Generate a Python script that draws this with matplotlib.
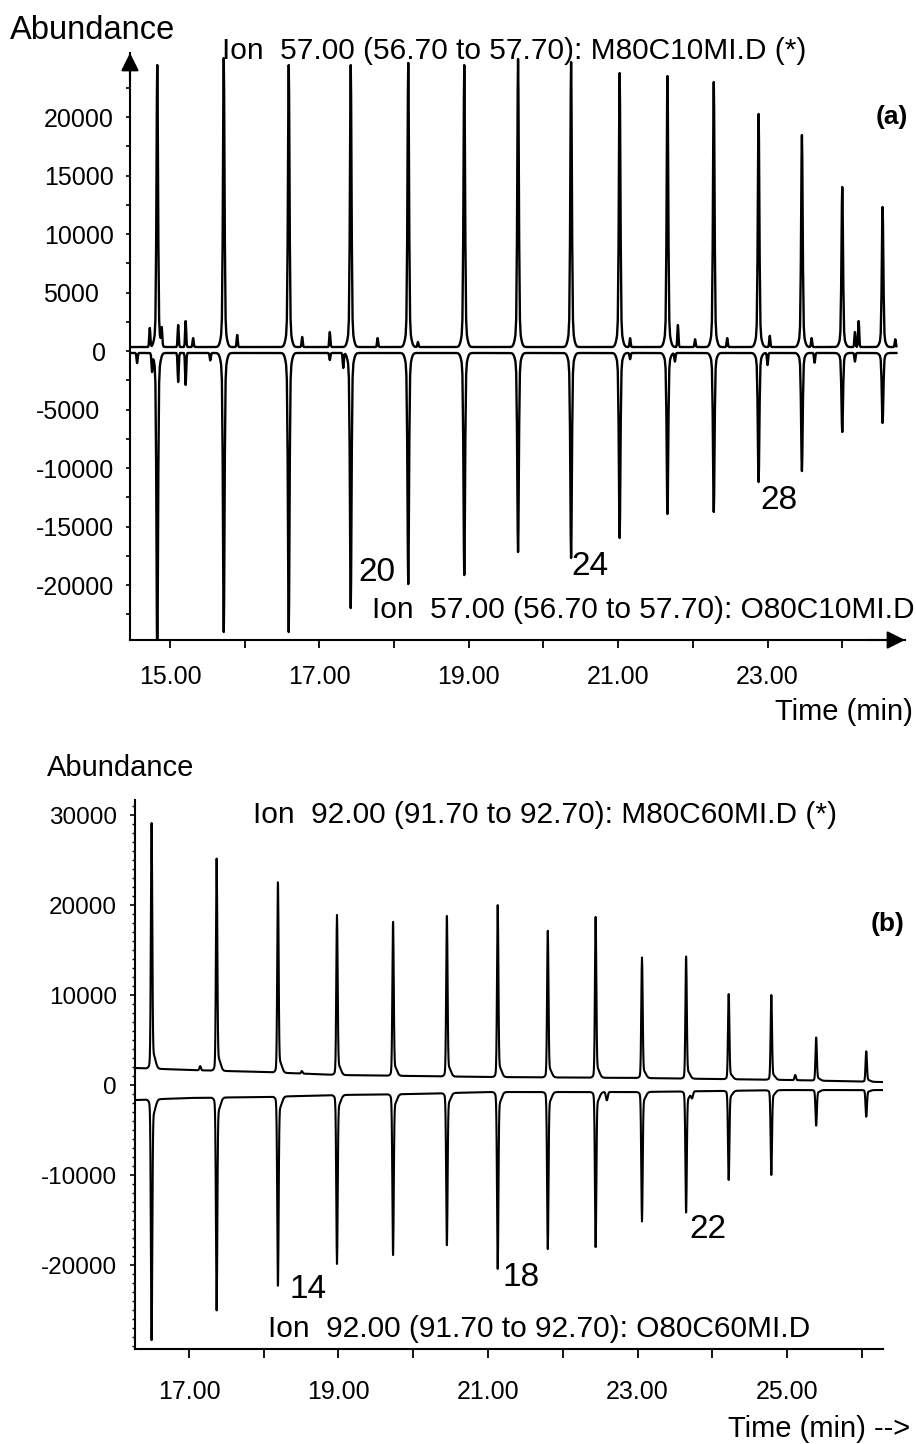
import numpy as np
import matplotlib
matplotlib.use("Agg")
import matplotlib.pyplot as plt
from matplotlib.ticker import FixedLocator, NullFormatter
from matplotlib.transforms import blended_transform_factory

plt.rcParams['font.family'] = ['Liberation Sans', 'DejaVu Sans']

# ---------------- data ----------------
# panel (a): ion 57 chromatograms
a_rt = [14.83, 15.72, 16.59, 17.42, 18.19, 18.94, 19.66, 20.37, 21.02, 21.66,
        22.28, 22.88, 23.46, 24.00, 24.54]
a_up = [24440, 25040, 24440, 24440, 24620, 24440, 24960, 24700, 23760, 23500,
        22990, 20260, 18460, 14020, 12310]
a_dn = [-26500, -24020, -24020, -21970, -19920, -19150, -17180, -17690, -15980,
        -13930, -13760, -11200, -10260, -6920, -6150]
a_base_up = 340
a_base_dn = -170
a_up_minor_t = [14.73, 14.89, 15.11, 15.21, 15.31, 15.90, 16.77, 17.14, 17.78,
                18.32, 21.16, 21.80, 22.03, 22.46, 23.03, 23.59, 24.17, 24.22, 24.71]
a_up_minor_y = [1970, 2050, 2220, 2560, 1100, 1370, 1200, 1620, 1100,
                770, 1100, 2220, 1000, 1100, 1300, 1100, 1620, 2560, 1000]
a_dn_minor_t = [14.56, 14.76, 15.11, 15.21, 15.54, 17.14, 17.32, 21.16, 21.76,
                23.00, 23.63, 24.17]
a_dn_minor_y = [-1030, -1800, -2650, -2900, -800, -770, -1450, -700, -900,
                -1200, -1000, -900]
a_labels = ['20', '24', '28']
a_label_t = [17.52, 20.38, 22.90]
a_label_y = [-18900, -18460, -12740]

# panel (b): ion 92 chromatograms
b_rt = [16.50, 17.37, 18.19, 18.98, 19.73, 20.45, 21.13, 21.80, 22.44, 23.06,
        23.65, 24.22, 24.79, 25.39, 26.06]
b_up = [29440, 25440, 22780, 19110, 18330, 19000, 20220, 17330, 18890, 14330,
        14440, 10220, 10110, 5330, 3780]
b_dn = [-28670, -25330, -22560, -20110, -19110, -18000, -20670, -18440, -18220,
        -15330, -14330, -10670, -10110, -4560, -3560]
b_base_t = [16.28, 17.0, 18.0, 19.0, 20.0, 21.0, 23.0, 25.0, 26.28]
b_base_up = [1890, 1670, 1440, 1110, 1000, 890, 780, 560, 330]
b_base_dn = [-1670, -1440, -1330, -1110, -1000, -780, -780, -560, -560]
b_up_minor_t = [17.15, 18.51, 25.11]
b_up_minor_y = [2100, 1550, 1110]
b_dn_minor_t = [22.59, 23.73]
b_dn_minor_y = [-1700, -1500]
b_labels = ['14', '18', '22']
b_label_t = [18.35, 21.20, 23.70]
b_label_y = [-22670, -21440, -16110]

a_xticks_major = [15, 17, 19, 21, 23]
a_xticks_minor = [16, 18, 20, 22, 24]
b_xticks_major = [17, 19, 21, 23, 25]
b_xticks_minor = [18, 20, 22, 24, 26]

# ---------------- helpers ----------------
W, H = 916, 1444
fig = plt.figure(figsize=(W / 100, H / 100), dpi=100)


def px_axes(l, r, t, b):
    return fig.add_axes([l / W, 1 - b / H, (r - l) / W, (b - t) / H])


def ftext(x, y, s, ha='left', va='baseline', **kw):
    fig.text(x / W, 1 - y / H, s, ha=ha, va=va, **kw)


def build(t, base, rts, apexes, s, ff, fs, shift):
    y = np.array(base, dtype=float).copy()
    for t0, a in zip(rts, apexes):
        b0 = np.interp(t0, t, base)
        h = a - b0
        y += h * ((1 - ff) * np.exp(-0.5 * ((t - t0) / s) ** 2)
                  + ff * np.exp(-0.5 * ((t - t0 - shift) / fs) ** 2))
    return y


# ---------------- panel (a) ----------------
axA = px_axes(130, 905, 53, 640)
ta = np.union1d(np.arange(14.465, 24.73, 0.01),
                np.array(a_rt + a_up_minor_t + a_dn_minor_t))
base_u = np.full_like(ta, a_base_up, dtype=float)
base_d = np.full_like(ta, a_base_dn, dtype=float)
yu = build(ta, base_u, a_rt, a_up, 0.010, 0.08, 0.03, 0.0)
yu = build(ta, yu, a_up_minor_t, a_up_minor_y, 0.007, 0.0, 0.01, 0.0)
yd = build(ta, base_d, a_rt, a_dn, 0.010, 0.08, 0.03, 0.0)
yd = build(ta, yd, a_dn_minor_t, a_dn_minor_y, 0.007, 0.0, 0.01, 0.0)
axA.plot(ta, yu, color='black', lw=1.7)
axA.plot(ta, yd, color='black', lw=1.7)
axA.set_xlim(14.465, 24.84)
axA.set_ylim(-24700, 25470)
for s in ['top', 'right']:
    axA.spines[s].set_visible(False)
for s in ['left', 'bottom']:
    axA.spines[s].set_linewidth(1.5)
axA.xaxis.set_major_locator(FixedLocator(a_xticks_major))
axA.xaxis.set_minor_locator(FixedLocator(a_xticks_minor))
axA.set_xticklabels(['%.2f' % v for v in a_xticks_major])
axA.tick_params(axis='x', which='both', direction='out', length=5.8, width=1.3,
                labelsize=18, pad=12)
axA.yaxis.set_major_locator(FixedLocator(list(range(-20000, 20001, 5000))))
axA.yaxis.set_minor_locator(FixedLocator(list(range(-22500, 22501, 2500))))
axA.yaxis.set_major_formatter(NullFormatter())
axA.tick_params(axis='y', which='both', direction='out', length=3, width=1.2)
transA = blended_transform_factory(fig.transFigure, axA.transData)
right_px = {'5000': 99, '0': 106, '-5000': 100}
for v in range(-20000, 20001, 5000):
    lab = '%d' % v
    axA.text(right_px.get(lab, 114) / W, v, lab, transform=transA, ha='right',
             va='center_baseline', fontsize=18)
arrow_kw = dict(arrowstyle='-|>,head_length=0.4,head_width=0.2', lw=1.5,
                color='black', mutation_scale=27, shrinkA=0, shrinkB=0)
axA.annotate('', xy=(0, 1), xytext=(0, 0.95), xycoords='axes fraction',
             arrowprops=arrow_kw)
axA.annotate('', xy=(1, 0), xytext=(0.95, 0), xycoords='axes fraction',
             arrowprops=arrow_kw)
for lab, t0, y0 in zip(a_labels, a_label_t, a_label_y):
    axA.text(t0, y0, lab, ha='left', va='center', fontsize=24)

ftext(10, 39, 'Abundance', fontsize=23.5)
ftext(222, 59, 'Ion  57.00 (56.70 to 57.70): M80C10MI.D (*)', fontsize=21.5)
ftext(372, 618, 'Ion  57.00 (56.70 to 57.70): O80C10MI.D', fontsize=21.5)
ftext(892, 117, '(a)', ha='center', va='center', fontsize=19, fontweight='bold')
ftext(913, 720, 'Time (min)', ha='right', fontsize=21)

# ---------------- panel (b) ----------------
axB = px_axes(135, 883, 800, 1349)
tb = np.union1d(np.arange(16.28, 26.28, 0.004), np.array(b_rt))
bu = np.interp(tb, b_base_t, b_base_up)
bd = np.interp(tb, b_base_t, b_base_dn)
yu2 = build(tb, bu, b_rt, b_up, 0.009, 0.06, 0.03, 0.02)
yu2 = build(tb, yu2, b_up_minor_t, b_up_minor_y, 0.01, 0.0, 0.01, 0.0)
yd2 = build(tb, bd, b_rt, b_dn, 0.009, 0.06, 0.03, 0.02)
yd2 = build(tb, yd2, b_dn_minor_t, b_dn_minor_y, 0.012, 0.0, 0.01, 0.0)
axB.plot(tb, yu2, color='black', lw=1.5)
axB.plot(tb, yd2, color='black', lw=1.5)
axB.set_xlim(16.278, 26.284)
axB.set_ylim(-29333, 31667)
for s in ['top', 'right']:
    axB.spines[s].set_visible(False)
for s in ['left', 'bottom']:
    axB.spines[s].set_linewidth(1.5)
axB.xaxis.set_major_locator(FixedLocator(b_xticks_major))
axB.xaxis.set_minor_locator(FixedLocator(b_xticks_minor))
axB.set_xticklabels(['%.2f' % v for v in b_xticks_major])
axB.tick_params(axis='x', which='both', direction='out', length=6.5, width=1.3,
                labelsize=18, pad=15.5)
axB.yaxis.set_major_locator(FixedLocator(list(range(-20000, 30001, 10000))))
axB.yaxis.set_minor_locator(FixedLocator(list(range(-29000, 31001, 1000))))
axB.set_yticklabels(['%d' % v for v in range(-20000, 30001, 10000)])
axB.tick_params(axis='y', which='major', direction='out', length=3.6, width=1.2,
                labelsize=17.5, pad=9.5)
axB.tick_params(axis='y', which='minor', direction='out', length=2.2, width=1.0)
for lab, t0, y0 in zip(b_labels, b_label_t, b_label_y):
    axB.text(t0, y0, lab, ha='left', va='center', fontsize=24)

ftext(47, 776, 'Abundance', fontsize=21)
ftext(253, 823, 'Ion  92.00 (91.70 to 92.70): M80C60MI.D (*)', fontsize=21.5)
ftext(268, 1337, 'Ion  92.00 (91.70 to 92.70): O80C60MI.D', fontsize=21.5)
ftext(888, 924, '(b)', ha='center', va='center', fontsize=19, fontweight='bold')
ftext(910, 1437, 'Time (min) -->', ha='right', fontsize=21)

fig.savefig('out.png', dpi=100)
